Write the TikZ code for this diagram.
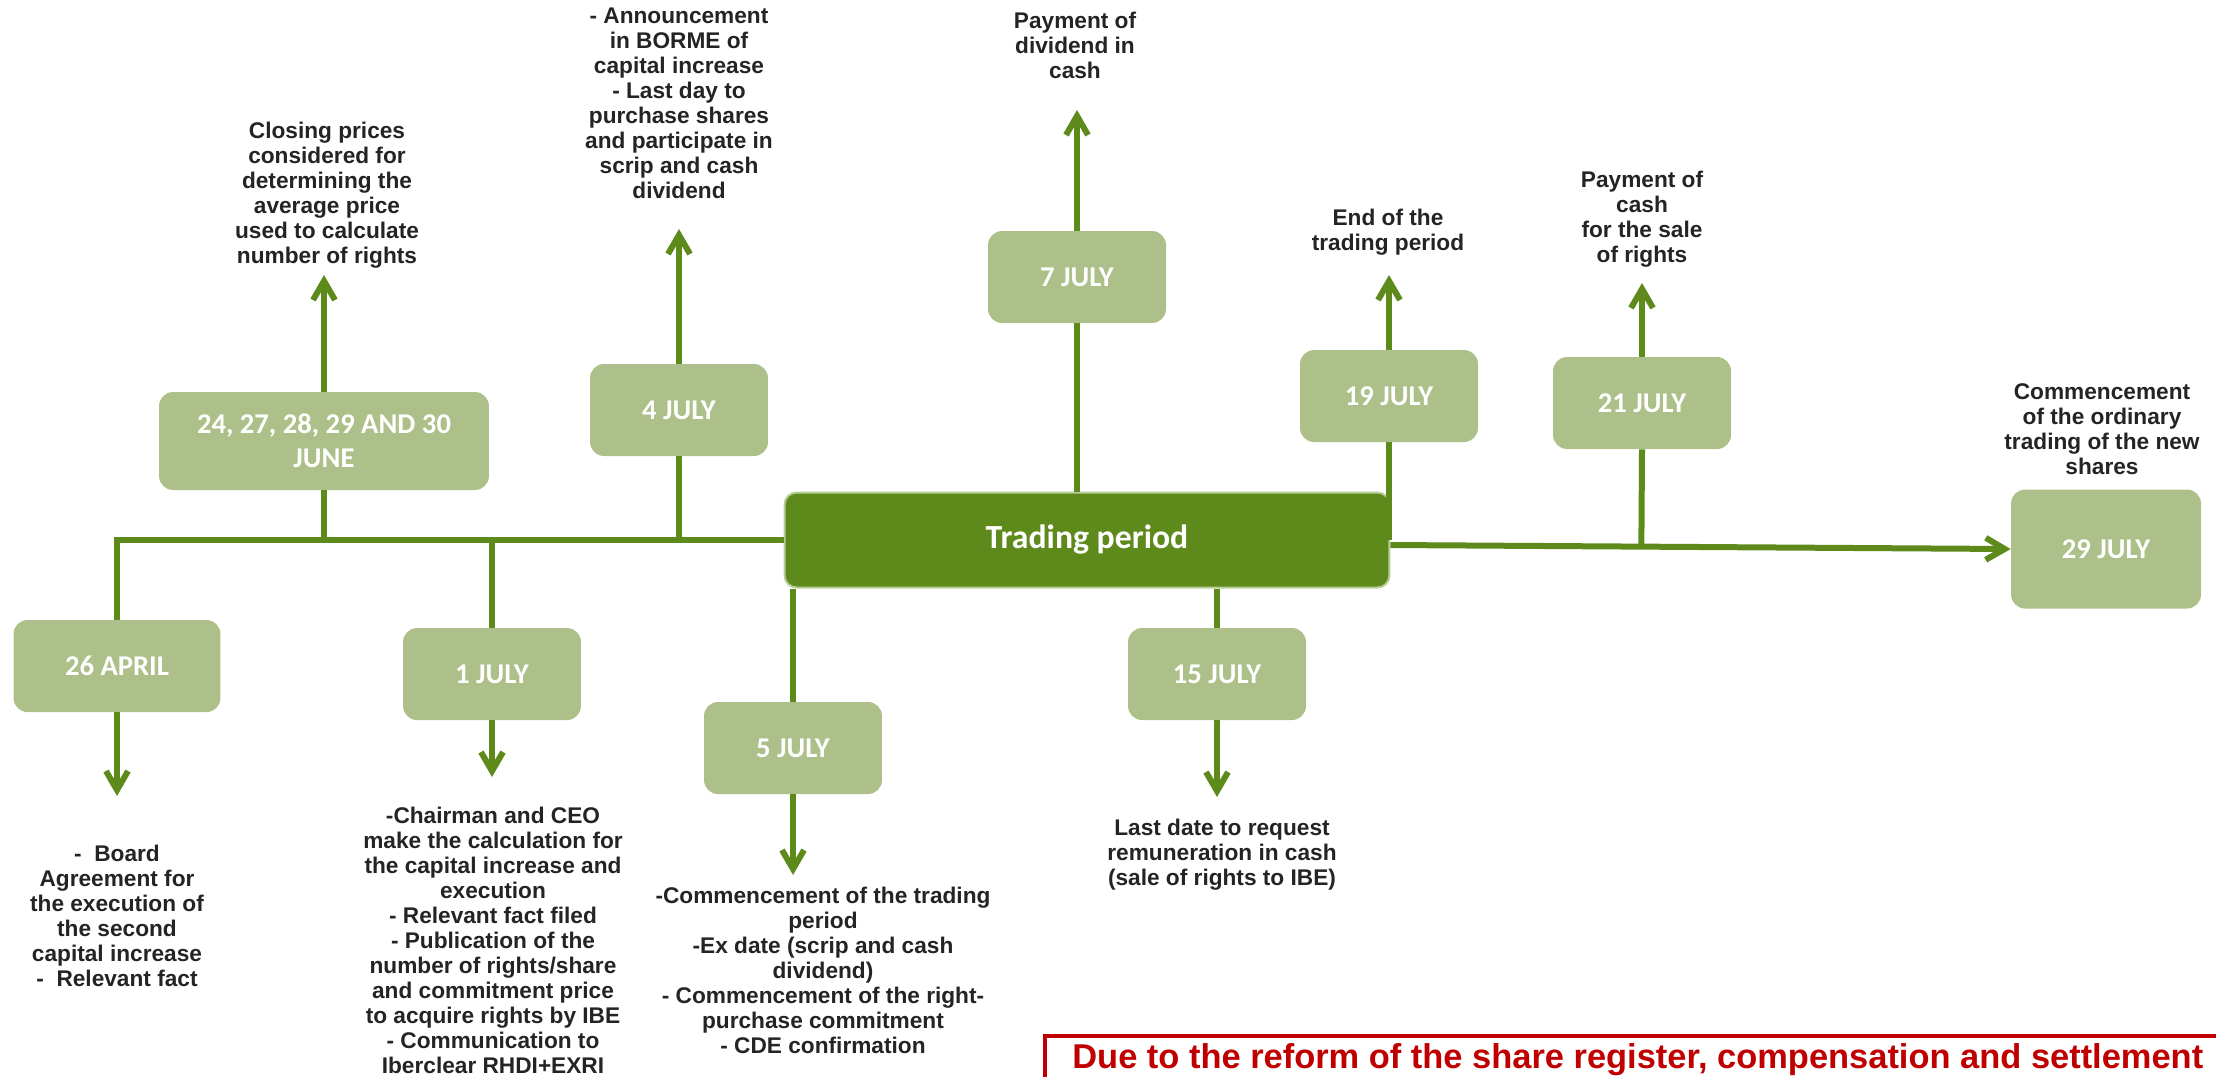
\documentclass[tikz,border=0pt]{standalone}
\usepackage{fontspec}
\setmainfont{Liberation Sans}
\newfontfamily\calfont{Carlito}
\usetikzlibrary{arrows.meta,calc}
\definecolor{leaf}{RGB}{94,138,28}
\definecolor{sage}{RGB}{173,192,137}
\definecolor{sageline}{RGB}{184,204,150}
\definecolor{warnred}{RGB}{192,0,0}
\tikzset{
  datebox/.style={fill=sage, rounded corners=0.28cm, text=white, inner sep=2pt,
    minimum width=3.56cm, minimum height=1.84cm, align=center,
    font=\calfont\bfseries\fontsize{16.3}{19.5}\selectfont},
  periodbox/.style={fill=leaf, draw=sageline, line width=0.04cm, rounded corners=0.24cm,
    text=white, minimum width=12.1cm, minimum height=1.9cm,
    font=\calfont\bfseries\fontsize{19.2}{23}\selectfont},
  note/.style={anchor=north, inner sep=0pt, align=center, text=black!86,
    font=\bfseries\fontsize{12.9}{14.2}\selectfont},
  link/.style={draw=leaf, line width=0.12cm},
  arr/.style={link, -{Straight Barb[length=0.38cm,width=0.44cm]}},
}
\begin{document}
\begin{tikzpicture}[x=0.02cm,y=-0.02cm]
  \useasboundingbox (0,0) rectangle (2216,1076);
  \clip (0,0) rectangle (2216,1076);
  % trading period and the date boxes
  \node[periodbox] (trading) at (1087,540) {Trading period};
  \node[datebox, minimum width=4.14cm] (apr26) at (117,666) {26 APRIL};
  \node[datebox, minimum width=6.6cm, minimum height=1.96cm] (june) at (324,441) {24, 27, 28, 29 AND 30\\JUNE};
  \node[datebox] (jul1) at (492,674) {1 JULY};
  \node[datebox] (jul4) at (679,410) {4 JULY};
  \node[datebox] (jul5) at (793,748) {5 JULY};
  \node[datebox] (jul7) at (1077,277) {7 JULY};
  \node[datebox] (jul15) at (1217,674) {15 JULY};
  \node[datebox] (jul19) at (1389,396) {19 JULY};
  \node[datebox] (jul21) at (1642,403) {21 JULY};
  \node[datebox, minimum width=3.8cm, minimum height=2.38cm] (jul29) at (2106,549) {29 JULY};
  % what happens on each date
  \node[note] (apr26txt) at (117,845) {-\ \ Board\\Agreement for\\the execution of\\the second\\capital increase\\-\ \ Relevant fact};
  \node[note] (junetxt) at (327,122) {Closing prices\\considered for\\determining the\\average price\\used to calculate\\number of rights};
  \node[note] (jul1txt) at (493,807) {-Chairman and CEO\\make the calculation for\\the capital increase and\\execution\\- Relevant fact filed\\- Publication of the\\number of rights/share\\and commitment price\\to acquire rights by IBE\\- Communication to\\Iberclear RHDI+EXRI};
  \node[note] (jul4txt) at (679,8) {- Announcement\\in BORME of\\capital increase\\- Last day to\\purchase shares\\and participate in\\scrip and cash\\dividend};
  \node[note] (jul5txt) at (823,887) {-Commencement of the trading\\period\\-Ex date (scrip and cash\\dividend)\\- Commencement of the right-\\purchase commitment\\- CDE confirmation};
  \node[note] (jul7txt) at (1075,12) {Payment of\\dividend in\\cash};
  \node[note] (jul15txt) at (1222,819) {Last date to request\\remuneration in cash\\(sale of rights to IBE)};
  \node[note] (jul19txt) at (1388,209) {End of the\\trading period};
  \node[note] (jul21txt) at (1642,171) {Payment of\\cash\\for the sale\\of rights};
  \node[note] (jul29txt) at (2102,383) {Commencement\\of the ordinary\\trading of the new\\shares};
  % time line
  \coordinate (east) at ([yshift=-0.1cm]trading.east);
  \draw[link] (apr26.north) |- (trading.west);
  \draw[link] (june.south) -- (june.south |- trading.west);
  \draw[link] (jul4.south) -- (jul4.south |- trading.west);
  \draw[link] (jul1.north) -- (jul1.north |- trading.west);
  \draw[link] (jul5.north) -- (jul5.north |- trading.south);
  \draw[link] (jul15.north) -- (jul15.north |- trading.south);
  \draw[link] (jul7.south) -- (jul7.south |- trading.north);
  \draw[link] (jul19.south) -- (jul19.south |- trading.east);
  \draw[arr] (east) -- (jul29.west);
  \draw[link] (jul21.south) -- ($(east)!(jul21.south)!(jul29.west)$);
  % arrows out to the notes
  \coordinate (apr26tip) at (117,796);
  \coordinate (jul1tip) at (492,777);
  \coordinate (jul5tip) at (793,875);
  \coordinate (jul15tip) at (1217,797);
  \coordinate (junetip) at (324,275);
  \coordinate (jul4tip) at (679,229);
  \coordinate (jul7tip) at (1077,110);
  \coordinate (jul19tip) at (1389,275);
  \coordinate (jul21tip) at (1642,283);
  \foreach \d in {apr26,jul1,jul5,jul15} {\draw[arr] (\d.south) -- (\d tip);}
  \foreach \d in {june,jul4,jul7,jul19,jul21} {\draw[arr] (\d.north) -- (\d tip);}
  % red notice, cut by the page edge
  \draw[warnred, line width=0.09cm] (1045,1100) |- (2240,1036);
  \node[anchor=base west, inner sep=0pt, text=warnred, font=\bfseries\fontsize{19.6}{23}\selectfont] (reform) at (1072,1068) {Due to the reform of the share register, compensation and settlement};
\end{tikzpicture}
\end{document}
